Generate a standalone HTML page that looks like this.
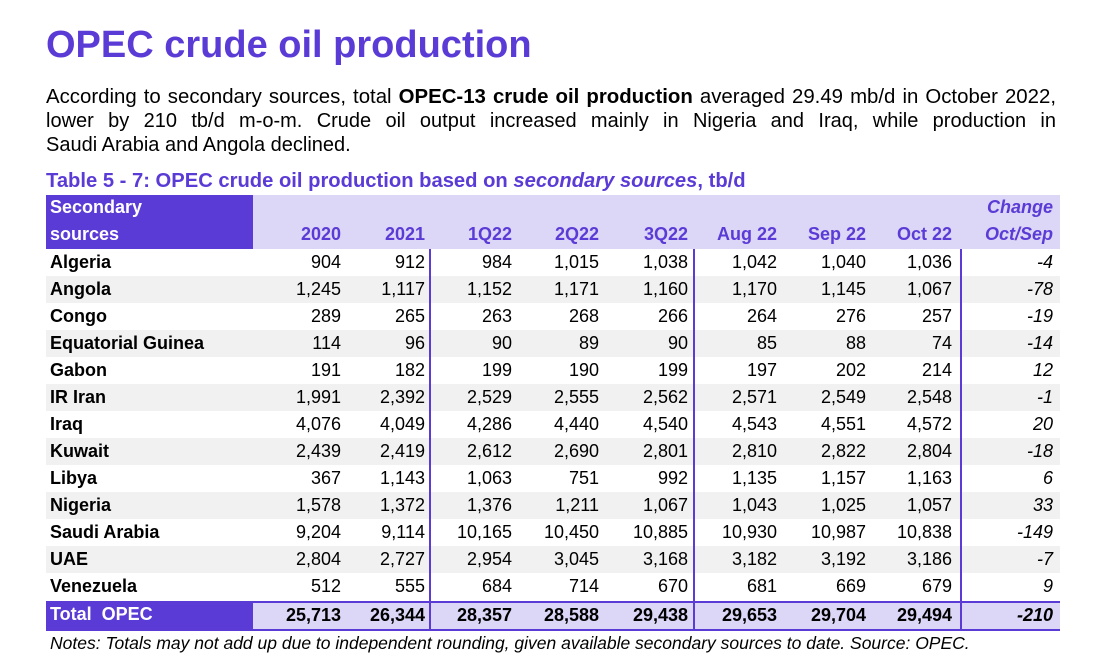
<!DOCTYPE html>
<html><head><meta charset="utf-8">
<style>
body{margin:0;width:1101px;height:669px;background:#fff;font-family:"Liberation Sans",Arial,sans-serif;position:relative;overflow:hidden;color:#000}
.abs{position:absolute;white-space:nowrap}
#title{left:46px;top:24px;font-size:38px;font-weight:bold;color:#5b3bd6}
.pl{position:absolute;left:46px;width:1010px;font-size:20px;line-height:24px;white-space:nowrap}
.just{text-align:justify;text-align-last:justify}
#ttitle{left:46px;top:170px;font-size:20.2px;font-weight:bold;color:#5b3bd6}
#notes{left:50px;top:633px;font-size:17.5px;font-style:italic}
.cell{position:absolute;font-size:18px;line-height:27px;height:27px}
</style></head><body>
<div id="title" class="abs">OPEC crude oil production</div>
<div>
<div class="pl just" style="top:85px;font-size:20.4px">According to secondary sources, total <b>OPEC-13 crude oil production</b> averaged 29.49 mb/d in October 2022,</div>
<div class="pl just" style="top:109px">lower by 210 tb/d m-o-m. Crude oil output increased mainly in Nigeria and Iraq, while production in</div>
<div class="pl" style="top:133px">Saudi Arabia and Angola declined.</div>
</div>
<div id="ttitle" class="abs">Table 5 - 7: OPEC crude oil production based on <i>secondary sources</i>, tb/d</div>
<div id="table"></div>
<div id="notes" class="abs">Notes: Totals may not add up due to independent rounding, given available secondary sources to date. Source: OPEC.</div>
<script>
const columns=["2020","2021","1Q22","2Q22","3Q22","Aug 22","Sep 22","Oct 22"];
const countries=["Algeria","Angola","Congo","Equatorial Guinea","Gabon","IR Iran","Iraq","Kuwait","Libya","Nigeria","Saudi Arabia","UAE","Venezuela"];
const values=[
[904,912,984,1015,1038,1042,1040,1036],
[1245,1117,1152,1171,1160,1170,1145,1067],
[289,265,263,268,266,264,276,257],
[114,96,90,89,90,85,88,74],
[191,182,199,190,199,197,202,214],
[1991,2392,2529,2555,2562,2571,2549,2548],
[4076,4049,4286,4440,4540,4543,4551,4572],
[2439,2419,2612,2690,2801,2810,2822,2804],
[367,1143,1063,751,992,1135,1157,1163],
[1578,1372,1376,1211,1067,1043,1025,1057],
[9204,9114,10165,10450,10885,10930,10987,10838],
[2804,2727,2954,3045,3168,3182,3192,3186],
[512,555,684,714,670,681,669,679]];
const changes=[-4,-78,-19,-14,12,-1,20,-18,6,33,-149,-7,9];
const totals=[25713,26344,28357,28588,29438,29653,29704,29494];
const totalChange=-210;

const T=document.getElementById('table');
const L=46,R=1060,PURW=207,HEAD=195,ROW0=249,RH=27;
const colRight=[341,425,512,599,688,777,866,952];
const chgRight=1053;
const vlines=[429,693,960];
const fmt=v=>v.toLocaleString('en-US');
function box(x,y,w,h,bg){const d=document.createElement('div');d.style.cssText=`position:absolute;left:${x}px;top:${y}px;width:${w}px;height:${h}px;background:${bg}`;T.appendChild(d);return d;}
function txt(s,x,y,opt){const d=document.createElement('div');d.className='cell';d.textContent=s;
 if(opt.right!==undefined){d.style.right=(1101-opt.right)+'px';d.style.textAlign='right';}else d.style.left=x+'px';
 d.style.top=y+'px';if(opt.bold)d.style.fontWeight='bold';if(opt.it)d.style.fontStyle='italic';if(opt.color)d.style.color=opt.color;T.appendChild(d);return d;}
let h=box(L,HEAD,R-L,54,'#dcd6f7');
let hp=box(L,HEAD,PURW,54,'#5b3bd6');
let t1=txt('Secondary',50,HEAD-1,{bold:true,color:'#fff'});
let t2=txt('sources',50,HEAD+26,{bold:true,color:'#fff'});
columns.forEach((c,i)=>{const e=txt(c,0,HEAD+26,{right:colRight[i],bold:true,color:'#5b3bd6'});
 });
let c1=txt('Change',0,HEAD-1,{right:chgRight,bold:true,it:true,color:'#5b3bd6'});
let c2=txt('Oct/Sep',0,HEAD+26,{right:chgRight,bold:true,it:true,color:'#5b3bd6'});
countries.forEach((name,r)=>{const y=ROW0+r*RH;
 const bg=box(L,y,R-L,RH,r%2?'#f1f1f1':'#fff');
 
 const n=txt(name,50,y,{bold:true});
 values[r].forEach((v,i)=>{const e=txt(fmt(v),0,y,{right:colRight[i]});});
 const ch=txt(String(changes[r]),0,y,{right:chgRight,it:true});
});
const TY=ROW0+countries.length*RH+2;
let tb=box(L,TY,R-L,RH,'#dcd6f7');
let tp=box(L,TY,PURW,RH,'#5b3bd6');
let tl=txt('Total  OPEC',50,TY-1,{bold:true,color:'#fff'});tl.style.whiteSpace='pre';
totals.forEach((v,i)=>{const e=txt(fmt(v),0,TY,{right:colRight[i],bold:true});});
let tc=txt(String(totalChange),0,TY,{right:chgRight,bold:true,it:true});
let topl=box(L,TY-1,R-L,2,'#5b3bd6');
let botl=box(L,TY+RH,R-L,2,'#5b3bd6');
vlines.forEach(x=>{const v=box(x,ROW0,2,TY+RH-ROW0,'#5b3bd6');});
</script>
</body></html>
